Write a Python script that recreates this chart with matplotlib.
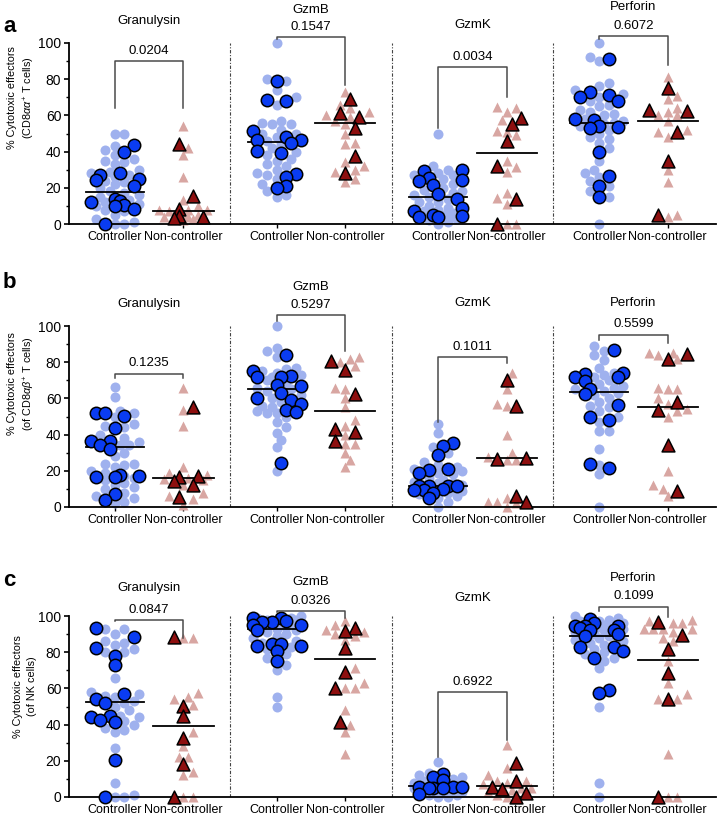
import numpy as np
import matplotlib.pyplot as plt

plt.rcParams['font.family'] = ['Liberation Sans', 'DejaVu Sans']
plt.rcParams['mathtext.fontset'] = 'custom'
plt.rcParams['mathtext.rm'] = 'Liberation Sans'
plt.rcParams['mathtext.it'] = 'Liberation Sans:italic'

markers = ['Granulysin', 'GzmB', 'GzmK', 'Perforin']
groups = ['Controller', 'Non-controller']

# ---- panel a : CD8aa+ T cells ----
a_ctrl_light = [
    [50, 50, 43, 41, 38, 36, 35, 34, 33, 30, 29, 28, 27, 26, 24, 23, 22, 20, 18, 17, 16, 15, 13, 12, 11, 10, 8, 7, 5, 3, 1, 0, 0],
    [100, 80, 79, 74, 70, 66, 57, 56, 55, 55, 52, 50, 50, 48, 46, 44, 42, 40, 38, 36, 35, 33, 32, 30, 28, 27, 25, 22, 18, 16, 15],
    [50, 32, 30, 28, 27, 27, 25, 22, 20, 19, 18, 17, 16, 15, 14, 12, 12, 10, 9, 8, 7, 6, 5, 4, 3, 2, 1, 0],
    [100, 92, 90, 78, 76, 74, 72, 70, 68, 66, 65, 63, 62, 61, 60, 58, 57, 56, 55, 54, 52, 50, 48, 47, 45, 42, 35, 30, 28, 26, 24, 21, 18, 15, 0],
]
a_ctrl_dark = [
    [43.5, 40, 28.2, 27.3, 25, 24.5, 20.8, 14, 12.5, 12.2, 10.7, 9.8, 8.5, 0],
    [78.8, 68.3, 67.8, 51.2, 48, 46.2, 46.2, 45, 40.1, 39.2, 27.8, 26, 20.8, 19.9],
    [29.7, 29.5, 25.4, 24.5, 23.6, 21.7, 16.6, 14, 8.8, 7, 5.2, 4.6, 3.9, 3.9],
    [91.3, 73, 71, 70, 68, 58.2, 57.6, 54, 53.4, 53, 39.8, 26.3, 20.8, 14.9],
]
a_nc_light = [
    [54, 42, 38, 26, 13.5, 10, 8, 8, 7.5, 7, 5, 5, 4, 4, 3, 2],
    [73, 66, 64, 62, 60, 59, 57, 55, 50, 45, 44, 34, 32, 30, 29, 25, 23],
    [64.6, 64.3, 62, 57.5, 51.6, 51, 49.4, 35, 31.3, 28.5, 17, 14.2, 11.2, 0, 0],
    [81, 70.5, 69, 64, 62, 60, 60, 57, 52, 51, 48, 30, 23, 5, 4],
]
a_nc_dark = [
    [44, 15.6, 8.5, 4.6, 3.9, 3.3],
    [69, 61.3, 59, 53, 37.4, 28.2],
    [58.6, 55.2, 45.7, 31.9, 13.8, 0],
    [75, 63, 62.6, 50.8, 35, 5.2],
]
a_med_ctrl = [17.7, 45.5, 15, 56]
a_med_nc = [7.2, 56, 39, 57]
a_pvals = ['0.0204', '0.1547', '0.0034', '0.6072']

# ---- panel b : CD8ab+ T cells ----
b_ctrl_light = [
    [66.5, 61, 53, 52, 50, 46, 45, 44, 40, 38, 36, 34, 34, 30, 28, 24, 24, 23, 22, 20, 19, 17, 16, 15, 13, 12, 11, 10, 8, 6, 5, 3, 2],
    [100, 88, 86, 83, 77, 76, 75, 74, 73, 72, 71, 70, 68, 66, 65, 64, 62, 60, 58, 56, 55, 53, 52, 52, 50, 47, 44, 41, 37, 33, 20],
    [46, 41, 33, 30, 25, 23, 22, 21, 20, 19, 18, 16, 15, 14, 13, 13, 12, 12, 11, 10, 10, 9, 8, 7, 6, 5, 3, 0],
    [89, 86, 84, 81, 77, 74, 73, 72, 70, 68, 67, 66, 65, 64, 63, 62, 60, 58, 56, 55, 53, 50, 47, 42, 42, 32, 23, 18, 0],
]
b_ctrl_dark = [
    [52, 51.7, 50.3, 43.5, 36.7, 36.7, 34.3, 32.1, 17.8, 17.4, 16.5, 16.5, 7.3, 4],
    [84.2, 75.2, 72.3, 71.9, 71.9, 67.3, 66.8, 63.1, 60.4, 59, 56.9, 53.6, 52.7, 24.2],
    [35.6, 33.9, 28.8, 20.9, 20.6, 18.7, 11.7, 11.7, 11.7, 11.4, 10.1, 9.5, 9.5, 8, 5],
    [87, 74.3, 73.4, 71.6, 71.6, 69.7, 65.1, 62.4, 56.3, 49.5, 48, 23.9, 21.5],
]
b_nc_light = [
    [65.5, 53.5, 45, 22, 19, 17.5, 16, 15.5, 15, 12, 8, 6, 4.5, 1],
    [83, 82, 80, 78, 66, 65, 60, 55, 48, 45, 40, 35, 35, 30, 26, 22],
    [74, 65, 57, 56, 40, 30, 27.5, 26, 26, 5, 3, 2.5, 2, 0],
    [85, 85, 84, 82, 66, 65, 65, 60, 57, 54, 53, 50, 20, 12, 10, 6],
]
b_nc_dark = [
    [55, 16.9, 16.3, 14.1, 12.3, 5.3],
    [80.5, 75.6, 62.4, 42.9, 41.3, 36.5],
    [70, 56, 27.3, 26.4, 5.9, 2.8],
    [84.4, 81.7, 57.8, 53.6, 34, 8.6],
]
b_med_ctrl = [33, 65, 11.5, 63.5]
b_med_nc = [16, 53, 27, 55.5]
b_pvals = ['0.1235', '0.5297', '0.1011', '0.5599']

# ---- panel c : NK cells ----
c_ctrl_light = [
    [93, 93, 90, 86, 85, 84, 82, 80, 80, 66, 58, 57, 56, 55, 53, 52, 50, 48, 45, 44, 42, 40, 38, 37, 36, 27, 8, 1, 0, 0],
    [100, 99, 99, 98, 98, 97, 96, 96, 95, 94, 93, 92, 91, 90, 89, 88, 86, 85, 83, 82, 79, 77, 73, 70, 55, 50],
    [19.5, 13, 12, 11, 10, 9, 9, 8, 8, 7, 7, 7, 6, 6, 6, 5, 5, 5, 4, 4, 3, 3, 2, 2, 1, 1, 0, 0],
    [100, 99, 98, 97, 97, 96, 96, 95, 94, 94, 93, 92, 91, 90, 89, 88, 87, 86, 85, 84, 82, 80, 79, 77, 75, 71, 50, 7.5, 0],
]
c_ctrl_dark = [
    [93.2, 88.6, 82.1, 78, 72.9, 56.8, 54.4, 51.7, 44.6, 44.3, 42.4, 41.5, 20.7, 0],
    [98.7, 98.7, 97.2, 96.9, 96.9, 95, 95, 92.3, 84.5, 84.3, 83.4, 83.4, 80.6, 75.3],
    [12.9, 11, 9.2, 5.5, 5.5, 5.5, 5.2, 5.2, 5, 1.8],
    [98.3, 95.9, 94.5, 94.5, 94.5, 93.2, 92.3, 92.3, 89.8, 89.1, 83, 82.7, 80.8, 76.6, 59, 57.7],
]
c_nc_light = [
    [88, 88, 57.5, 55, 54, 51, 36, 28, 22, 22, 14, 12, 0, 0],
    [97.5, 95, 92, 91, 90, 89, 87, 71, 63, 60, 60, 48, 40, 36, 24],
    [29, 16, 12, 9, 9, 8, 7, 5, 5, 4, 3, 1, 0],
    [98, 97, 96, 96, 93, 93, 93, 93, 91, 88, 86, 75, 63, 57, 54, 54, 24, 0, 0],
]
c_nc_dark = [
    [88.6, 50.4, 44.8, 32.8, 18.1, 0],
    [93.2, 91.9, 82.1, 69.2, 60, 41.5],
    [18.8, 8.9, 5.5, 4.6, 2.4, 0],
    [96.9, 89.5, 81.5, 68.3, 53.9, 0],
]
c_med_ctrl = [52.5, 93, 6, 89]
c_med_nc = [39, 76, 6, 75.5]
c_pvals = ['0.0847', '0.0326', '0.6922', '0.1099']

ylabels = [r'% Cytotoxic effectors' + '\n' + r'(CD8$\alpha\alpha^{+}$ T cells)',
           r'% Cytotoxic effectors' + '\n' + r'(of CD8$\alpha\beta^{+}$ T cells)',
           '% Cytotoxic effectors\n(of NK cells)']
letters = ['a', 'b', 'c']

# layout: bracket top, left leg end, right leg end, p-value y, title y (data units)
a_brackets = [(90, 64, 64, 95.5, 112), (103.5, 102, 77, 109, 118.5), (86.7, 53, 70, 92.5, 110), (104, 102, 88, 109.5, 120)]
b_brackets = [(73.5, 71, 71, 79.5, 112), (106, 103, 86, 111.8, 121.5), (83, 47, 79.6, 88.5, 112.7), (95, 92, 90.5, 101, 112.7)]
c_brackets = [(97.8, 97, 88, 103.3, 115.5), (103, 102, 99, 108.5, 119), (58, 22, 31.5, 63.5, 110), (105, 103, 99.5, 110.8, 121)]
label_y = [0.70, 0.68, 0.61]

LIGHT_BLUE = '#9fb1ee'
DARK_BLUE = '#0a3cf2'
LIGHT_RED = '#d8a6a2'
DARK_RED = '#8e0f0f'

PX_Y = 1.81
PX_X = 68.5


def swarm(vals, d=9.6, max_off=27):
    """offsets (in x data units) for a compact, width-limited beeswarm"""
    ys = np.asarray(vals, float) * PX_Y
    offs = np.zeros(len(ys))
    cands = [0.0]
    k = 1
    while k * d / 2 <= max_off:
        cands += [k * d / 2, -k * d / 2]
        k += 1
    px, py = [], []
    for i in np.argsort(ys, kind='stable'):
        best, best_gap = 0.0, -1.0
        for c in cands:
            if px:
                gap = min(np.hypot(c - a, ys[i] - b) for a, b in zip(px, py))
            else:
                gap = np.inf
            if gap >= 0.88 * d:
                best = c
                break
            if gap > best_gap + 0.5:
                best_gap, best = gap, c
        offs[i] = best
        px.append(best)
        py.append(ys[i])
    return offs / PX_X


def draw_group(ax, x0, light, dark, kind):
    allv = list(light) + list(dark)
    offs = swarm(allv)
    n = len(light)
    if kind == 'circle':
        ax.scatter(x0 + offs[:n], light, s=52, marker='o', color=LIGHT_BLUE,
                   linewidths=0, zorder=2, clip_on=False)
        ax.scatter(x0 + offs[n:], dark, s=80, marker='o', color=DARK_BLUE,
                   edgecolors='black', linewidths=1.1, zorder=4, clip_on=False)
    else:
        ax.scatter(x0 + offs[:n], light, s=52, marker='^', color=LIGHT_RED,
                   linewidths=0, zorder=2, clip_on=False)
        ax.scatter(x0 + offs[n:], dark, s=85, marker='^', color=DARK_RED,
                   edgecolors='black', linewidths=1.1, zorder=4, clip_on=False)


x_ctrl = np.array([0, 2.36, 4.72, 7.07])
x_nc = x_ctrl + 1

fig = plt.figure(figsize=(7.18, 8.16), dpi=100)

rows = [
    (a_ctrl_light, a_ctrl_dark, a_nc_light, a_nc_dark, a_med_ctrl, a_med_nc, a_pvals, a_brackets, 224, 27),
    (b_ctrl_light, b_ctrl_dark, b_nc_light, b_nc_dark, b_med_ctrl, b_med_nc, b_pvals, b_brackets, 507, 282),
    (c_ctrl_light, c_ctrl_dark, c_nc_light, c_nc_dark, c_med_ctrl, c_med_nc, c_pvals, c_brackets, 797, 580),
]

for r, (cl, cd, nl, nd, mc, mn, pv, br, y0px, lett_y) in enumerate(rows):
    ax = fig.add_axes([69 / 718, (816 - y0px) / 816, 647 / 718, 181 / 816])
    ax.set_xlim(-0.67, 8.775)
    ax.set_ylim(0, 100)

    for i in range(4):
        draw_group(ax, x_ctrl[i], cl[i], cd[i], 'circle')
        draw_group(ax, x_nc[i], nl[i], nd[i], 'triangle')
        ax.plot([x_ctrl[i] - 0.42, x_ctrl[i] + 0.42], [mc[i], mc[i]], color='black', lw=1.3, zorder=3)
        ax.plot([x_nc[i] - 0.44, x_nc[i] + 0.44], [mn[i], mn[i]], color='black', lw=1.3, zorder=3)

        top, left, right, py, ty = br[i]
        ax.plot([x_ctrl[i], x_ctrl[i], x_nc[i], x_nc[i]], [left, top, top, right],
                color='#4a4a4a', lw=1.1, clip_on=False, zorder=5)
        xm = (x_ctrl[i] + x_nc[i]) / 2
        ax.text(xm, py, pv[i], ha='center', va='center', fontsize=9.5)
        ax.text(xm, ty, markers[i], ha='center', va='center', fontsize=9.5)

    for i in range(3):
        xs = (x_nc[i] + x_ctrl[i + 1]) / 2
        ax.axvline(xs, 0, 1, color='#444444', lw=0.8, ls=(0, (3, 1.5, 1, 1.5)))

    ax.spines['top'].set_visible(False)
    ax.spines['right'].set_visible(False)
    ax.spines['left'].set_linewidth(1.3)
    ax.spines['bottom'].set_linewidth(1.3)
    ax.set_yticks(range(0, 101, 20))
    ax.set_yticks(range(10, 100, 20), minor=True)
    ax.tick_params(axis='y', which='major', labelsize=10, length=3.5, width=1.2, pad=2)
    ax.tick_params(axis='y', which='minor', length=2, width=1.0)
    pos = np.sort(np.concatenate([x_ctrl, x_nc]))
    ax.set_xticks(pos)
    ax.set_xticklabels(groups * 4)
    ax.tick_params(axis='x', labelsize=9, length=3, width=1.0, pad=2)

    ax.set_ylabel(ylabels[r], fontsize=7.8, linespacing=1.45)
    ax.yaxis.set_label_coords(-0.05, label_y[r])

    fig.text(3 / 718, 1 - lett_y / 816, letters[r], fontsize=16, fontweight='bold',
             ha='left', va='center')

fig.savefig('out.png', dpi=100)
